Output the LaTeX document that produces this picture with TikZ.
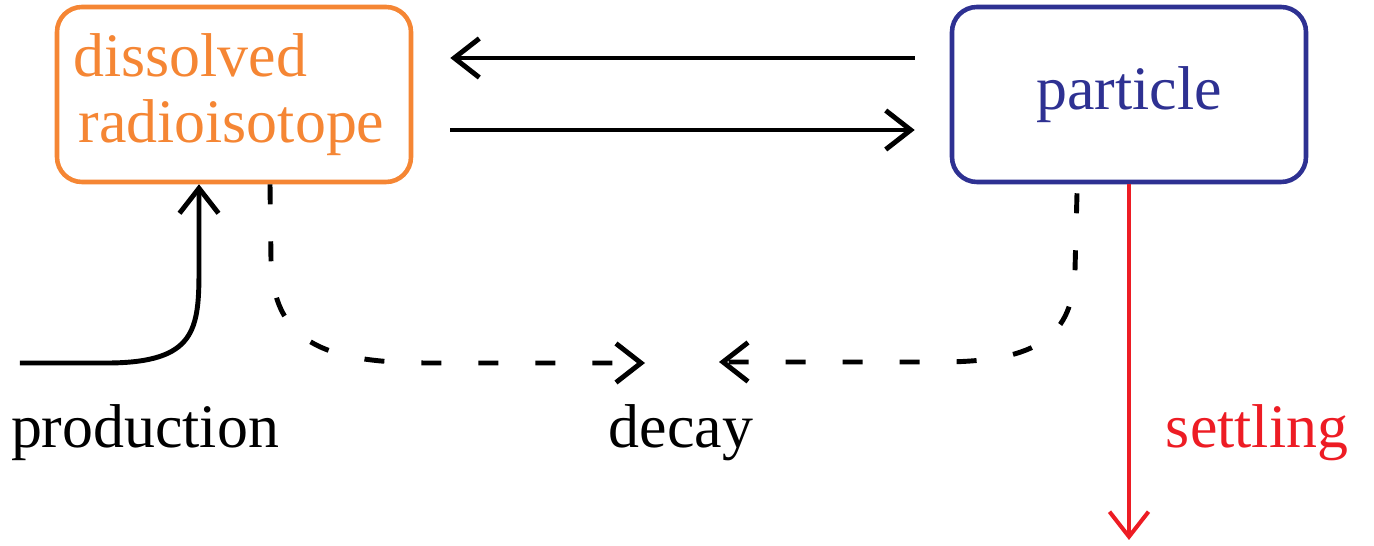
\documentclass[tikz,border=0pt]{standalone}
\usepackage{fontspec}
\setmainfont{Liberation Serif}
\usetikzlibrary{arrows.meta,calc}
\definecolor{isoorange}{RGB}{245,134,52}
\definecolor{partblue}{RGB}{46,49,146}
\definecolor{settlered}{RGB}{237,28,36}
\begin{document}
\begin{tikzpicture}[
        box/.style={draw, rounded corners=0.25cm, line width=1.3pt, minimum width=3.54cm, minimum height=1.75cm, font=\fontsize{17.6}{18.8}\selectfont},
        lbl/.style={anchor=base, inner sep=0pt, font=\fontsize{17.6}{18.8}\selectfont},
        flow/.style={line width=1.4pt, -{Straight Barb[length=2.5mm, width=3.9mm]}},
        decayflow/.style={flow, dash pattern=on 2mm off 3.7mm}
    ]
        \useasboundingbox (0,0) rectangle (13.74,-5.46);

        % Nodes
        \node (diss) [box, isoorange, align=left] at (2.34,-0.945) {\hspace*{-0.1cm}dissolved\\\hspace*{-0.05cm}radioisotope};
        \node (part) [box, partblue] at (11.29,-0.945) {particle};
        \node (prod) [lbl] at (1.45,-4.48) {production};
        \node (decay) [lbl] at (6.81,-4.48) {decay};
        \node (settle) [lbl, settlered] at (12.57,-4.48) {settling};
        \coordinate (prodin) at (0.2,-3.63);
        \coordinate (decayl) at (6.45,-3.63);
        \coordinate (decayr) at (7.19,-3.62);
        \coordinate (settleend) at (11.29,-5.40);

        % Edges
        \draw[flow] ([yshift=3.65mm]part.west) ++(-0.35,0) -- ($([yshift=3.65mm]diss.east)+(0.37,0)$);
        \draw[flow] ([yshift=-3.55mm]diss.east) ++(0.37,0) -- ($([yshift=-3.55mm]part.west)+(-0.35,0)$);
        \draw[flow] (prodin) -- (1.1,-3.63) .. controls (1.95,-3.62) and (1.99,-3.3) .. (1.99,-2.7) -- ($(diss.south)+(-0.35,0)$);
        \draw[decayflow] ($(diss.south)+(0.36,0)$) -- (2.71,-2.6) .. controls (2.73,-3.4) and (3.2,-3.63) .. (4.3,-3.63) -- (decayl);
        \draw[decayflow] ($(part.south)+(-0.52,-0.09)$) -- (10.75,-2.7) .. controls (10.73,-3.35) and (10.4,-3.62) .. (9.4,-3.62) -- (decayr);
        \draw[settlered, line width=1.15pt, -{Straight Barb[length=2.5mm, width=3.9mm]}] (part.south) -- (settleend);

\end{tikzpicture}
\end{document}
